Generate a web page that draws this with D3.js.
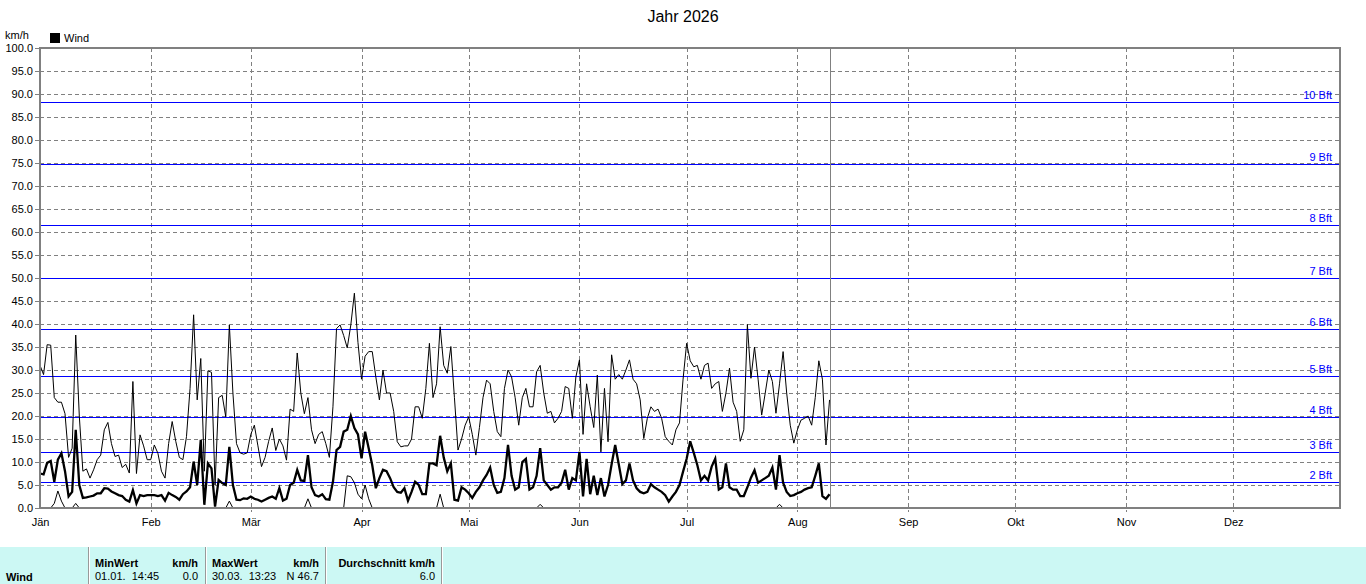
<!DOCTYPE html>
<html>
<head>
<meta charset="utf-8">
<script src="https://cdn.jsdelivr.net/npm/d3@7"></script>
<style>
body { margin: 0; background: #fff; }
svg { display: block; font-family: "Liberation Sans", Arial, sans-serif; }
</style>
</head>
<body>
<svg id="chart" width="1366" height="584"></svg>
<script>
// ---- data (one value per day, from 1 Jan) ----
const year = 2026;
const monthLabels = ["Jän", "Feb", "Mär", "Apr", "Mai", "Jun", "Jul", "Aug", "Sep", "Okt", "Nov", "Dez"];
const yTicks = [0, 5, 10, 15, 20, 25, 30, 35, 40, 45, 50, 55, 60, 65, 70, 75, 80, 85, 90, 95, 100];
const bftLevels = [5.6, 12.1, 19.8, 28.7, 38.9, 50.0, 61.6, 74.8, 88.2];
const bftLabels = ["2 Bft", "3 Bft", "4 Bft", "5 Bft", "6 Bft", "7 Bft", "8 Bft", "9 Bft", "10 Bft"];

const windMax = [
  31, 29, 35.5, 35.4, 24, 23, 23, 20.5, 11, 13,
  37.6, 20, 8, 8.5, 6.5, 8.3, 10.5, 11.5, 17, 18.6,
  14, 11.2, 11.5, 8.8, 9.5, 7.6, 27.5, 7.5, 15.9, 13.5,
  10.5, 10.5, 13.7, 11.9, 8, 6.5, 14, 18.8, 14.5, 11,
  10.5, 15.5, 26, 42, 23.5, 32.5, 8, 29.8, 29.5, 5,
  24, 24.5, 19.8, 39.8, 25, 14, 12, 11.7, 12, 16,
  18, 13.5, 9, 11, 14.5, 17.4, 12.5, 15, 13.5, 10.4,
  21.5, 21, 33.7, 25, 20.5, 24, 17, 14, 16, 16.6,
  14, 11, 22, 39, 39.8, 37.5, 34.8, 39.8, 46.7, 36,
  28, 33, 34, 34, 28.5, 23.5, 30, 25, 25, 21,
  14.4, 13.3, 13.5, 13.5, 15, 22, 22, 19.5, 26, 35.8,
  24, 27, 39.4, 31, 29.3, 35.1, 24, 12.6, 15, 18,
  19.8, 16, 11.5, 17.5, 24, 27.8, 27, 21, 16.6, 15.5,
  26, 30, 28.5, 24, 18, 24, 26, 22, 22, 29.6,
  31, 25, 20.6, 21, 18.5, 19.5, 21, 26.4, 26, 19.5,
  28.5, 32.2, 16, 27, 22, 17.5, 28.9, 12.2, 26, 14.4,
  33.3, 28, 29, 28, 30, 32.2, 28, 27, 23.5, 15.1,
  19.5, 22, 21, 21.5, 19.5, 15.5, 14.5, 13.7, 17, 18.5,
  28, 35.8, 32, 30.7, 31, 28, 31, 31.5, 26, 27,
  27.5, 21, 25, 30.4, 23, 21, 14.5, 17, 39.9, 28.2,
  35, 28, 20.2, 25, 30, 27.5, 20.6, 27, 34, 25,
  18, 14.1, 17, 19.1, 19.5, 20, 18, 24, 32, 28,
  13.7, 23.5
];

const windMean = [
  7.5, 7.3, 9.8, 10.2, 5.7, 10.5, 11.9, 8, 2.5, 3.5,
  17, 5, 2.2, 2.3, 2.5, 2.7, 3.2, 3.2, 4.3, 4.2,
  3.6, 3.2, 2.8, 2.6, 1.8, 1.4, 3.9, 1.0, 2.8, 2.6,
  2.8, 2.8, 2.8, 2.6, 2.8, 1.6, 3.3, 2.8, 2.4, 1.8,
  3.0, 3.6, 4.5, 10.1, 5, 14.8, 0.7, 9.7, 8.6, 0.3,
  6.1, 5.4, 5, 13.3, 5, 1.8, 1.7, 2.1, 2.0, 2.5,
  2, 1.8, 1.4, 1.8, 2.2, 2.5, 2.0, 4.3, 1.6, 2.0,
  5, 5.5, 8.3, 6, 5.9, 11.5, 4.5, 2.8, 2.5, 3,
  1.9, 1.8, 5.7, 12.6, 13.3, 16.6, 17, 20, 17.4, 16,
  10.8, 16.6, 13, 9.3, 4.3, 6.5, 8.3, 8, 6.5, 4.5,
  3.5, 3.3, 4.3, 1.6, 3.5, 5.7, 5, 3, 3, 9.7,
  9.7, 9.3, 15.7, 11, 8, 9.7, 1.8, 1.6, 4.5, 4,
  3.2, 2.2, 3.5, 4.5, 6, 7.2, 8.8, 5, 3.3, 3.5,
  6.5, 13.7, 7, 4, 4.5, 10, 10.7, 4, 4.5, 7,
  13, 6, 5, 4, 4.5, 4.5, 5.5, 8.3, 4, 6.5,
  6, 12.2, 2.5, 10.7, 3, 7, 2.8, 6.5, 2.5, 5,
  9.5, 13.7, 9.5, 5.2, 6, 9.7, 6, 4.3, 3.5, 3.2,
  3.5, 5.2, 4.5, 4, 3.5, 2.8, 1.4, 2.5, 3.5, 5,
  7.9, 10.7, 14.5, 12, 9.3, 6, 7, 6, 9, 10.7,
  4, 4.5, 9.7, 4.5, 4, 4, 2.6, 2.6, 4.5, 6.6,
  8.2, 5.5, 6, 6.5, 7, 8.8, 4, 11.5, 5.5, 3.5,
  2.6, 2.8, 3.2, 3.5, 4, 4.3, 4.5, 7, 9.7, 2.6,
  2.0, 3.0
];

const windMin = [
  0, 0, 0, 0, 1, 3.7, 1.5, 0, 0, 0,
  1, 0, 0, 0, 0, 0, 0, 0, 0, 0,
  0, 0, 0, 0, 0, 0, 0, 0, 0, 0,
  0, 0, 0, 0, 0, 0, 0, 0, 0, 0,
  0, 0, 0, 0, 0, 0, 0, 0, 0, 0,
  0, 0, 0, 1.5, 0, 0, 0, 0, 0, 0,
  0, 0, 0, 0, 0, 0, 0, 0, 0, 0,
  0, 0, 0, 0, 0, 2, 0, 0, 0, 0,
  0, 0, 0, 0, 0, 0, 7, 6.8, 5.5, 3,
  2, 5, 2, 0, 0, 0, 0, 0, 0, 0,
  0, 0, 0, 0, 0, 0, 0, 0, 0, 0,
  0, 0, 3, 0, 0, 0, 0, 0, 0, 0,
  0, 0, 0, 0, 0, 0, 0, 0, 0, 0,
  0, 0, 0, 0, 0, 0, 0, 0, 0, 0,
  0.8, 0, 0, 0, 0, 0, 0, 0, 0, 0,
  0, 0, 0, 0, 0, 0, 0, 0, 0, 0,
  0, 0, 0, 0, 0, 0, 0, 0, 0, 0,
  0, 0, 0, 0, 0, 0, 0, 0, 0, 0,
  0, 0, 0, 0, 0, 0, 0, 0, 0, 0,
  0, 0, 0, 0, 0, 0, 0, 0, 0, 0,
  0, 0, 0, 0, 0, 0, 0, 0.8, 0, 0,
  0, 0, 0, 0, 0, 0, 0, 0, 0, 0,
  0, 0
];

const markerDay = 221; // current date line

// summary table
const statHeaders = ["MinWert", "km/h", "MaxWert", "km/h", "Durchschnitt km/h"];
const statValues = ["01.01.  14:45", "0.0", "30.03.  13:23", "N 46.7", "6.0"];

// ---- drawing ----
const svg = d3.select("svg#chart");
const margin = { top: 48, right: 26, bottom: 76, left: 40 };
const plotRight = 1340;
const plotBottom = 508;
const dayDate = i => new Date(year, 0, 1 + i);

const x = d3.scaleTime()
    .domain([new Date(year, 0, 1), new Date(year + 1, 0, 1)])
    .range([margin.left, 1344]);
const y = d3.scaleLinear().domain([0, 100]).range([plotBottom, margin.top]);

const monthStarts = d3.timeMonths(new Date(year, 0, 1), new Date(year, 11, 2));
const grey = "#808080";

// title
svg.append("text")
    .attr("x", 683).attr("y", 22)
    .attr("text-anchor", "middle")
    .attr("font-size", 16)
    .text("Jahr " + year);

svg.append("text").attr("x", 5).attr("y", 39).attr("font-size", 11).text("km/h");
svg.append("rect").attr("x", 50).attr("y", 33).attr("width", 10).attr("height", 10).attr("fill", "#000");
svg.append("text").attr("x", 64).attr("y", 42).attr("font-size", 11).text("Wind");

// horizontal dashed grid
svg.append("g").selectAll("line").data(yTicks.filter(v => v > 0 && v < 100))
    .join("line")
    .attr("x1", margin.left).attr("x2", plotRight)
    .attr("y1", d => Math.round(y(d)) + 0.5).attr("y2", d => Math.round(y(d)) + 0.5)
    .attr("stroke", grey).attr("stroke-dasharray", "4,3");

// vertical dashed grid (month starts)
svg.append("g").selectAll("line").data(monthStarts.slice(1))
    .join("line")
    .attr("x1", d => Math.round(x(d)) + 0.5).attr("x2", d => Math.round(x(d)) + 0.5)
    .attr("y1", margin.top).attr("y2", plotBottom + 4)
    .attr("stroke", grey).attr("stroke-dasharray", "4,3");

// Beaufort lines
const bft = svg.append("g");
bft.selectAll("line").data(bftLevels)
    .join("line")
    .attr("x1", margin.left).attr("x2", plotRight)
    .attr("y1", d => Math.round(y(d)) + 0.5).attr("y2", d => Math.round(y(d)) + 0.5)
    .attr("stroke", "#0000ff");
bft.selectAll("text").data(bftLevels)
    .join("text")
    .attr("x", 1332)
    .attr("y", d => Math.round(y(d)) - 3)
    .attr("text-anchor", "end")
    .attr("font-size", 11)
    .attr("fill", "#0000ff")
    .text((d, i) => bftLabels[i]);

// current date marker
svg.append("line")
    .attr("x1", Math.round(x(dayDate(markerDay))) + 0.5).attr("x2", Math.round(x(dayDate(markerDay))) + 0.5)
    .attr("y1", margin.top).attr("y2", plotBottom)
    .attr("stroke", grey);

// series
const line = d3.line().x((d, i) => x(dayDate(i))).y(d => y(d));
const series = [
    { values: windMin, width: 1 },
    { values: windMax, width: 1 },
    { values: windMean, width: 2.3 },
];
svg.append("g").selectAll("path").data(series)
    .join("path")
    .attr("fill", "none")
    .attr("stroke", "#000")
    .attr("stroke-linejoin", "miter")
    .attr("stroke-width", d => d.width)
    .attr("d", d => line(d.values));

// frame
svg.append("rect")
    .attr("x", margin.left).attr("y", margin.top)
    .attr("width", plotRight - margin.left).attr("height", plotBottom - margin.top)
    .attr("fill", "none").attr("stroke", grey).attr("stroke-width", 2);

// y axis
svg.append("g")
    .attr("transform", `translate(${margin.left - 1},0)`)
    .call(d3.axisLeft(y).tickValues(yTicks).tickFormat(d3.format(".1f")).tickSize(4).tickPadding(2))
    .call(g => g.select(".domain").remove())
    .call(g => g.selectAll(".tick line").attr("stroke", grey))
    .call(g => g.selectAll(".tick text").attr("font-size", 11).attr("fill", "#000")
        .attr("font-family", "Liberation Sans, Arial, sans-serif"));

// x axis
svg.append("g")
    .attr("transform", `translate(0,${plotBottom})`)
    .call(d3.axisBottom(x).tickValues(monthStarts).tickFormat(d => monthLabels[d.getMonth()]).tickSize(0).tickPadding(10))
    .call(g => g.select(".domain").remove())
    .call(g => g.selectAll(".tick text").attr("font-size", 11).attr("fill", "#000")
        .attr("font-family", "Liberation Sans, Arial, sans-serif"));

// summary table
const table = svg.append("g");
table.append("rect").attr("x", 0).attr("y", 547).attr("width", 1366).attr("height", 37).attr("fill", "#ccf8f4");
[88, 205, 325, 441].forEach(px => {
    table.append("line").attr("x1", px + 0.5).attr("x2", px + 0.5).attr("y1", 547).attr("y2", 584).attr("stroke", "#999");
    table.append("line").attr("x1", px + 1.5).attr("x2", px + 1.5).attr("y1", 547).attr("y2", 584).attr("stroke", "#fff");
});
const colX = [95, 198, 212, 319, 435];
const colAnchor = ["start", "end", "start", "end", "end"];
table.append("text").attr("x", 6).attr("y", 581).attr("font-size", 11).attr("font-weight", "bold").text("Wind");
table.selectAll("text.h").data(statHeaders).join("text").attr("class", "h")
    .attr("x", (d, i) => colX[i]).attr("y", 567)
    .attr("text-anchor", (d, i) => colAnchor[i])
    .attr("font-size", 11).attr("font-weight", "bold")
    .text(d => d);
table.selectAll("text.v").data(statValues).join("text").attr("class", "v")
    .attr("x", (d, i) => colX[i]).attr("y", 580)
    .attr("text-anchor", (d, i) => colAnchor[i])
    .attr("font-size", 11)
    .style("white-space", "pre")
    .text(d => d);
</script>
</body>
</html>
